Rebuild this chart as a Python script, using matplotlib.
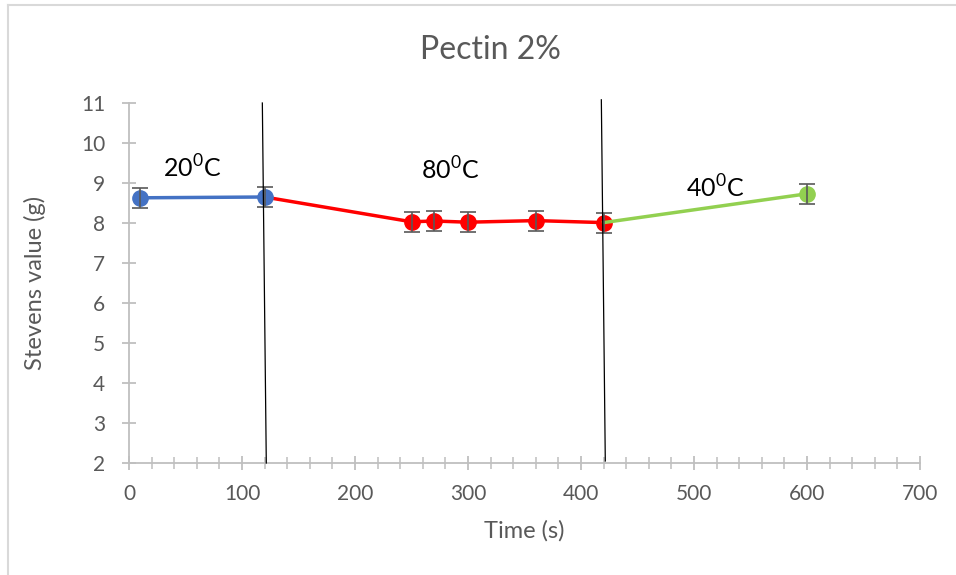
import numpy as np
import matplotlib.pyplot as plt
from matplotlib.lines import Line2D
from matplotlib.ticker import MultipleLocator

plt.rcParams['font.family'] = ['Lato', 'DejaVu Sans']
plt.rcParams['mathtext.fontset'] = 'custom'
plt.rcParams['mathtext.rm'] = 'Lato'

# stevens value readings for each temperature step
t_20 = [10, 120]
v_20 = [8.63, 8.65]
t_80 = [120, 250, 270, 300, 360, 420]
v_80 = [8.65, 8.03, 8.05, 8.02, 8.06, 8.01]
t_40 = [420, 600]
v_40 = [8.01, 8.73]
err = 0.25

# temperature change markers (hand drawn, slightly tilted)
step1_x = [118, 121.5]
step1_y = [11.0, 2.0]
step2_x = [418, 421.5]
step2_y = [11.08, 2.05]

labels = ['20$^\\mathregular{0}$C', '80$^\\mathregular{0}$C', '40$^\\mathregular{0}$C']
label_x = [30, 258, 493]
label_y = [9.37, 9.33, 8.87]

fig = plt.figure(figsize=(9.56, 5.75), dpi=100)
ax = fig.add_axes([129/956, 1-463/575, (920-129)/956, (463-103)/575])

gray = '#595959'
ax.plot(t_20, v_20, color='#4472C4', lw=2.5, marker='o', ms=11, zorder=3)
ax.plot(t_80, v_80, color='#FF0000', lw=2.5, marker='o', ms=11,
        markevery=[1, 2, 3, 4, 5], zorder=2)
ax.plot(t_40, v_40, color='#92D050', lw=2.5, marker='o', ms=11,
        markevery=[1], zorder=2)

# error bars
ax.errorbar(t_20, v_20, yerr=err, fmt='none', ecolor=gray, elinewidth=1.2,
            capsize=6, capthick=1.2, zorder=4)
ax.errorbar(t_80[1:], v_80[1:], yerr=err, fmt='none', ecolor=gray,
            elinewidth=1.2, capsize=6, capthick=1.2, zorder=4)
ax.errorbar(t_40[1:], v_40[1:], yerr=err, fmt='none', ecolor=gray,
            elinewidth=1.2, capsize=6, capthick=1.2, zorder=4)

ax.plot(step1_x, step1_y, color='black', lw=0.9, zorder=5, clip_on=False)
ax.plot(step2_x, step2_y, color='black', lw=0.9, zorder=5, clip_on=False)

for s, x, y in zip(labels, label_x, label_y):
    ax.text(x, y, s, fontsize=18, color='black', va='center', ha='left')

ax.set_xlim(0, 700)
ax.set_ylim(2, 11)
ax.xaxis.set_major_locator(MultipleLocator(100))
ax.xaxis.set_minor_locator(MultipleLocator(20))
ax.yaxis.set_major_locator(MultipleLocator(1))

for side in ['top', 'right']:
    ax.spines[side].set_visible(False)
for side in ['left', 'bottom']:
    ax.spines[side].set_color('#BFBFBF')
    ax.spines[side].set_linewidth(1.3)

ax.tick_params(axis='both', which='major', direction='inout', length=10,
               width=1.3, color='#BFBFBF', labelsize=15, labelcolor=gray, pad=10)
ax.tick_params(axis='x', which='minor', direction='inout', length=8,
               width=1.1, color='#BFBFBF')
ax.tick_params(axis='y', pad=12)

ax.set_xlabel('Time (s)', fontsize=17, color=gray, labelpad=12)
ax.set_ylabel('Stevens value (g)', fontsize=17, color=gray, labelpad=25)

fig.text(490/956, 1-50/575, 'Pectin 2%', fontsize=23, color=gray,
         ha='center', va='center')

# outer chart frame
fig.add_artist(Line2D([8/956, 8/956], [0, 1-5/575], transform=fig.transFigure,
                      color='#D9D9D9', lw=1.5))
fig.add_artist(Line2D([8/956, 1], [1-5/575, 1-5/575], transform=fig.transFigure,
                      color='#D9D9D9', lw=1.5))

fig.savefig('out.png', dpi=100, facecolor='white')
